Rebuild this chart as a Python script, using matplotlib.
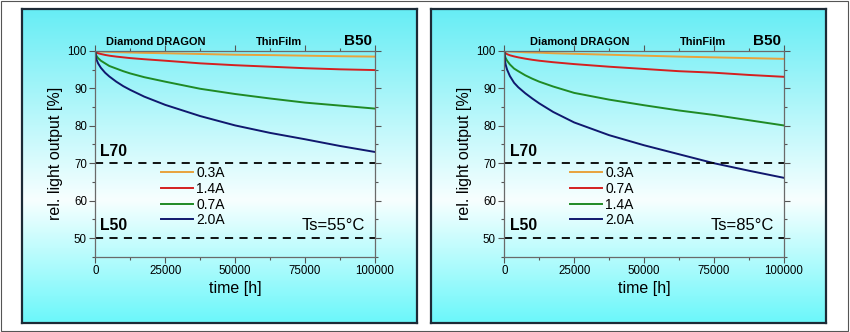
import numpy as np
import matplotlib
matplotlib.use("Agg")
import matplotlib.pyplot as plt
from matplotlib.patches import Rectangle
from matplotlib.ticker import MultipleLocator

plt.rcParams["font.family"] = ["Liberation Sans", "DejaVu Sans"]

# time axis shared by all curves [h]
hours = [0, 250, 500, 1000, 2000, 3500, 5000, 7500, 10000, 12500, 17500,
         25000, 37500, 50000, 62500, 75000, 87500, 100000]

# Ts = 55 C panel
p1_labels = ["0.3A", "1.4A", "0.7A", "2.0A"]
p1_values = [
    [100, 100, 99.95, 99.9, 99.85, 99.8, 99.75, 99.7, 99.65, 99.6, 99.5,
     99.4, 99.2, 99.0, 98.9, 98.75, 98.6, 98.5],
    [100, 99.7, 99.55, 99.4, 99.2, 98.95, 98.75, 98.5, 98.3, 98.1, 97.8,
     97.4, 96.7, 96.2, 95.8, 95.4, 95.1, 94.9],
    [100, 99.0, 98.6, 98.1, 97.4, 96.7, 96.0, 95.3, 94.6, 94.0, 93.0,
     91.8, 89.9, 88.5, 87.3, 86.2, 85.4, 84.6],
    [100, 98.2, 97.6, 96.7, 95.5, 94.2, 93.2, 91.8, 90.6, 89.6, 87.8,
     85.6, 82.6, 80.1, 78.1, 76.4, 74.6, 73.0],
]

# Ts = 85 C panel
p2_labels = ["0.3A", "0.7A", "1.4A", "2.0A"]
p2_values = [
    [100, 100, 99.95, 99.9, 99.85, 99.8, 99.75, 99.65, 99.6, 99.55, 99.4,
     99.25, 99.0, 98.75, 98.5, 98.3, 98.1, 97.9],
    [100, 99.55, 99.4, 99.15, 98.85, 98.55, 98.3, 97.95, 97.65, 97.4, 97.0,
     96.5, 95.8, 95.2, 94.6, 94.2, 93.6, 93.1],
    [100, 98.6, 98.1, 97.4, 96.4, 95.3, 94.6, 93.5, 92.6, 91.8, 90.5,
     88.8, 87.0, 85.5, 84.1, 82.9, 81.5, 80.1],
    [100, 97.3, 96.3, 95.0, 93.3, 91.5, 90.3, 88.7, 87.3, 86.0, 83.7,
     80.9, 77.5, 74.8, 72.4, 70.0, 68.0, 66.1],
]

line_colors = ["#e8a23c", "#d42020", "#1f8a25", "#10186e"]
limits = [70, 50]

fig = plt.figure(figsize=(8.5, 3.32), dpi=100)
fig.patch.set_facecolor("white")

# outer thin frame
fig.add_artist(Rectangle((0.001, 0.003), 0.997, 0.994, transform=fig.transFigure,
                         fill=False, edgecolor="#555555", linewidth=0.8))

# cyan -> white -> cyan background for each panel
grad = np.linspace(0, 1, 256)
top_c = np.array([0.40, 0.93, 0.96])
mid_c = np.array([0.97, 1.0, 1.0])
bot_c = np.array([0.42, 0.97, 0.98])
col = np.zeros((256, 3))
for i, g in enumerate(grad):
    if g < 0.61:
        f = g / 0.61
        col[i] = top_c * (1 - f) + mid_c * f
    else:
        f = (g - 0.61) / 0.39
        col[i] = mid_c * (1 - f) + bot_c * f
img = np.repeat(col[:, None, :], 4, axis=1)

panel_boxes = [(0.0259, 0.0271, 0.4647, 0.9458), (0.5071, 0.0271, 0.4647, 0.9458)]
for (px, py, pw, ph) in panel_boxes:
    bg = fig.add_axes([px, py, pw, ph], zorder=0)
    bg.imshow(img, aspect="auto", extent=[0, 1, 0, 1])
    bg.set_xticks([])
    bg.set_yticks([])
    for s in bg.spines.values():
        s.set_edgecolor("#1c2a36")
        s.set_linewidth(1.6)

panels = [
    dict(rect=[0.1121, 0.2268, 0.3291, 0.6196], labels=p1_labels, values=p1_values,
         ts="Ts=55°C", dd_x=0.217, tf_x=0.657, lx=1700),
    dict(rect=[0.5933, 0.2268, 0.3287, 0.6196], labels=p2_labels, values=p2_values,
         ts="Ts=85°C", dd_x=0.269, tf_x=0.711, lx=2000),
]

for p in panels:
    ax = fig.add_axes(p["rect"], zorder=2)
    ax.patch.set_alpha(0)
    handles = []
    for vals, lab, c in zip(p["values"], p["labels"], line_colors):
        h, = ax.plot(hours, vals, color=c, linewidth=1.4, label=lab)
        handles.append(h)
    for lv in limits:
        ax.axhline(lv, color="black", linewidth=1.3, linestyle=(0, (4.5, 3.5)))

    ax.set_xlim(0, 100000)
    ax.set_ylim(45, 100)
    ax.set_xticks([0, 25000, 50000, 75000, 100000])
    ax.set_yticks([50, 60, 70, 80, 90, 100])
    ax.xaxis.set_minor_locator(MultipleLocator(12500))
    ax.yaxis.set_minor_locator(MultipleLocator(5))
    ax.tick_params(which="both", labelsize=8.3, colors="#555555", labelcolor="black",
                   width=0.8)
    ax.tick_params(which="major", direction="out", length=4, pad=2)
    ax.tick_params(which="minor", direction="out", length=2.5)
    ax.tick_params(which="both", top=True, right=True)
    for s in ax.spines.values():
        s.set_edgecolor("#6a6a6a")
        s.set_linewidth(0.9)

    ax.set_xlabel("time [h]", fontsize=11.5, labelpad=3)
    ax.set_ylabel("rel. light output [%]", fontsize=11.5, labelpad=3)

    ax.text(p["dd_x"], 1.042, "Diamond DRAGON", transform=ax.transAxes,
            ha="center", va="center", fontsize=7.9, fontweight="bold")
    ax.text(p["tf_x"], 1.042, "ThinFilm", transform=ax.transAxes,
            ha="center", va="center", fontsize=7.9, fontweight="bold")
    ax.text(0.99, 1.048, "B50", transform=ax.transAxes,
            ha="right", va="center", fontsize=11, fontweight="bold")
    ax.text(p["lx"], 73.0, "L70", ha="left", va="center", fontsize=11.3,
            fontweight="bold")
    ax.text(p["lx"], 53.4, "L50", ha="left", va="center", fontsize=11.3,
            fontweight="bold")
    ax.text(0.965, 53.4, p["ts"], transform=ax.get_yaxis_transform(),
            ha="right", va="center", fontsize=12)

    ax.legend(handles=handles, loc="upper left", bbox_to_anchor=(0.235, 0.44),
              frameon=False, fontsize=10, handlelength=2.3, handletextpad=0.25,
              labelspacing=0.12, borderpad=0, borderaxespad=0)

fig.savefig("out.png", dpi=100, facecolor="white")
